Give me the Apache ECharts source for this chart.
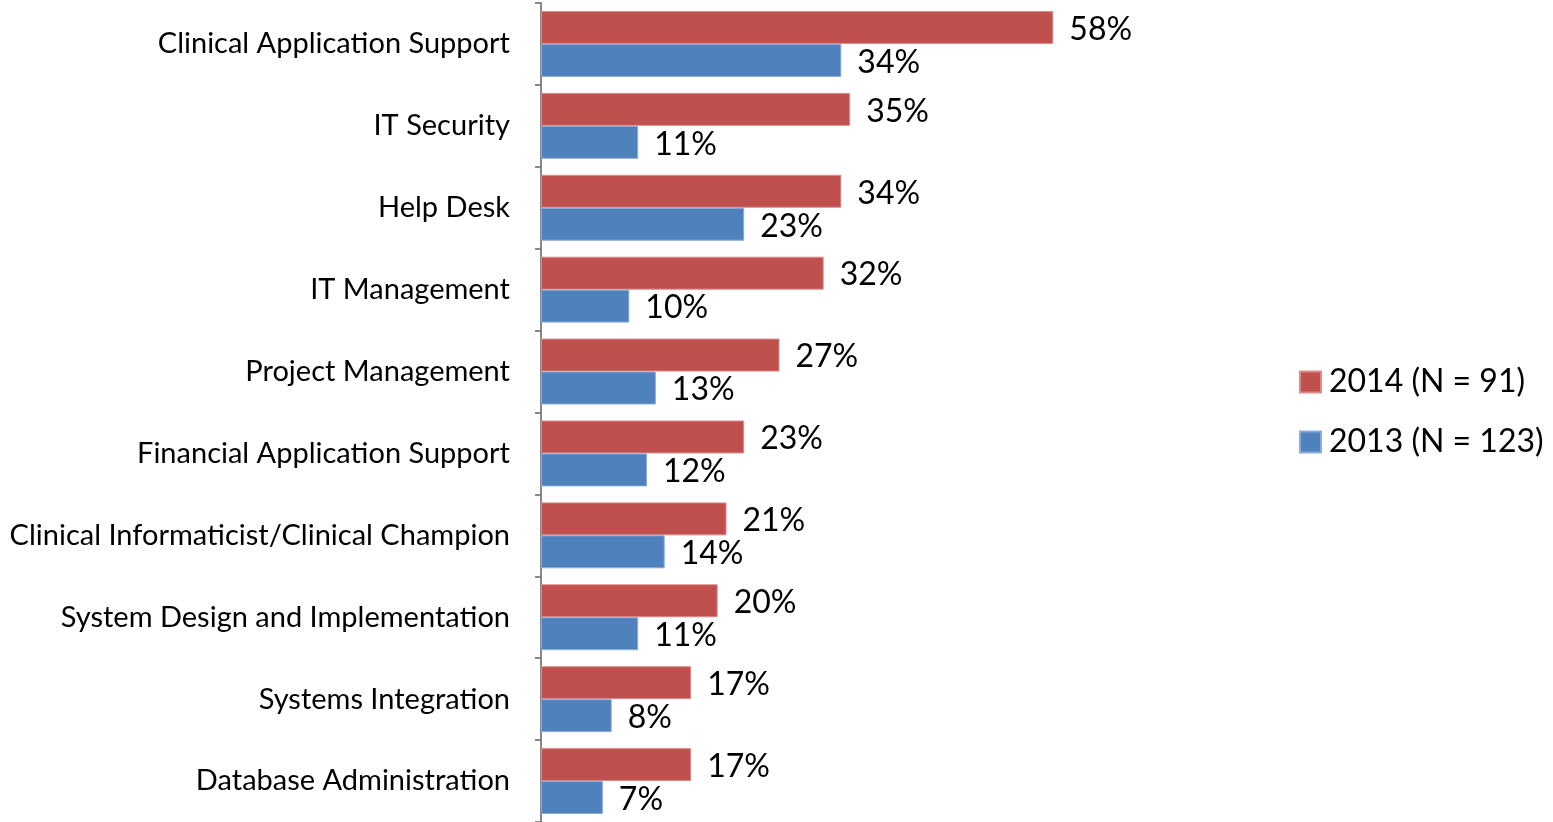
<!DOCTYPE html>
<html>
<head>
<meta charset="utf-8">
<script src="https://cdn.jsdelivr.net/npm/echarts@6/dist/echarts.min.js"></script>
<style>
  html, body { margin: 0; padding: 0; background: #fff; }
  #chart { width: 1553px; height: 822px; }
</style>
</head>
<body>
<div id="chart"></div>
<script>
// Roles, top to bottom
const categories = [
  'Clinical Application Support',
  'IT Security',
  'Help Desk',
  'IT Management',
  'Project Management',
  'Financial Application Support',
  'Clinical Informaticist/Clinical Champion',
  'System Design and Implementation',
  'Systems Integration',
  'Database Administration'
];
// Percent of respondents
const values2014 = [58, 35, 34, 32, 27, 23, 21, 20, 17, 17];
const values2013 = [34, 11, 23, 10, 13, 12, 14, 11, 8, 7];
const seriesNames = ['2014 (N = 91)', '2013 (N = 123)'];

const FONT = 'Lato, "Noto Sans", sans-serif';

const chart = echarts.init(document.getElementById('chart'), null, { renderer: 'canvas' });

const valueLabel = {
  show: true,
  position: 'right',
  distance: 16,
  offset: [0, 2],
  color: '#000',
  fontFamily: FONT,
  fontSize: 32,
  formatter: p => p.value + '%'
};

chart.setOption({
  animation: false,
  backgroundColor: '#fff',
  grid: { left: 541, top: 3, height: 820, width: 530, containLabel: false },
  legend: {
    orient: 'vertical',
    left: 1299,
    top: 366,
    padding: 0,
    itemWidth: 21,
    itemHeight: 21,
    itemGap: 28,
    icon: 'rect',
    textStyle: { fontFamily: FONT, fontSize: 32, color: '#000', lineHeight: 32, padding: [0, 0, 0, 3] },
    data: seriesNames
  },
  xAxis: {
    type: 'value',
    min: 0,
    max: 60,
    show: false
  },
  yAxis: {
    type: 'category',
    inverse: true,
    data: categories,
    axisLine: { show: true, lineStyle: { color: '#888', width: 2 } },
    axisTick: { show: true, length: 6, lineStyle: { color: '#888', width: 2 } },
    axisLabel: { margin: 31, color: '#000', fontFamily: FONT, fontSize: 29 },
    splitLine: { show: false }
  },
  series: [
    {
      name: seriesNames[0],
      type: 'bar',
      data: values2014,
      barGap: '0%',
      barCategoryGap: '19.5%',
      itemStyle: { color: '#C0504D', borderColor: '#D98C8A', borderWidth: 1 },
      label: valueLabel
    },
    {
      name: seriesNames[1],
      type: 'bar',
      data: values2013,
      barGap: '0%',
      barCategoryGap: '19.5%',
      itemStyle: { color: '#4F81BD', borderColor: '#8CAAD6', borderWidth: 1 },
      label: valueLabel
    }
  ]
});
</script>
</body>
</html>
